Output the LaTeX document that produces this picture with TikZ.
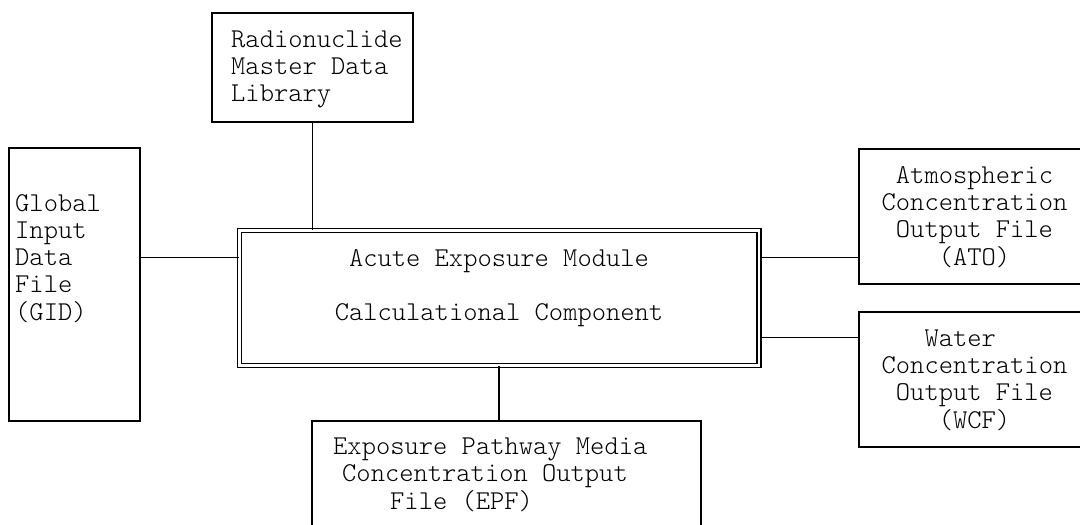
\documentclass[tikz,border=0pt]{standalone}
\usepackage{fontspec}
\newfontfamily\courfont{Latin Modern Mono Light}
\begin{document}
\begin{tikzpicture}[x=1pt,y=-1pt,
  box/.style={draw=black, line width=1.8pt, rectangle, inner sep=0pt, fill=white},
  dbox/.style={draw=black, line width=1.3pt, double=white, double distance=2.6pt, rectangle, inner sep=0pt, fill=white},
  conn/.style={draw=black, line width=1.8pt},
  txt/.style={font={\courfont\fontsize{27.2}{27}\selectfont}, inner sep=0pt, text=black},
]
\fill[white] (0,0) rectangle (1080,525);
\useasboundingbox (0,0) rectangle (1080,525);

% boxes
\node[box, minimum width=201pt, minimum height=109pt] (rml) at (312.5,67.5) {};
\node[box, minimum width=131pt, minimum height=273pt] (gid) at (74.5,284.5) {};
\node[dbox, minimum width=519.5pt, minimum height=135pt] (aem) at (499.3,298) {};
\node[box, minimum width=231pt, minimum height=135pt] (ato) at (974.5,216.5) {};
\node[box, minimum width=231pt, minimum height=135pt] (wcf) at (974.5,379.5) {};
\node[box, minimum width=389pt, minimum height=139pt] (epf) at (506.5,490.5) {};

% labels
\node[txt, anchor=west, align=left] (rmltxt) at (231,69.5)
  {\strut Radionuclide\\\strut Master Data\\\strut Library};
\node[txt, anchor=west, align=left] (gidtxt) at (15,261)
  {\strut Global\\\strut Input\\\strut Data\\\strut File\\\strut (GID)};
\node[txt, align=center] (aemtxt) at (499,288)
  {\strut Acute Exposure Module\\\strut\\\strut Calculational Component};
\node[txt, align=center] (atotxt) at (974.5,219)
  {\strut Atmospheric\\\strut Concentration\\\strut Output File\\\strut (ATO)};
\node[txt, align=center] (wcftxt) at (974.5,382)
  {\strut Water\hphantom{XX}\\\strut Concentration\\\strut Output File\\\strut (WCF)};
\node[txt, anchor=west, align=left] (epftxt) at (333,477)
  {\strut Exposure Pathway Media\\\strut\hspace{9pt}Concentration Output\\\strut\hspace{57pt}File (EPF)};

% connectors
\draw[conn] (rml.south) -- (rml.south |- aem.north);
\draw[conn] (gid.east |- 0,257.5) -- (aem.west |- 0,257.5);
\draw[conn] (aem.east |- 0,257.5) -- (ato.west |- 0,257.5);
\draw[conn] (aem.east |- 0,337.5) -- (wcf.west |- 0,337.5);
\draw[conn] (aem.south) -- (aem.south |- epf.north);
\end{tikzpicture}
\end{document}
